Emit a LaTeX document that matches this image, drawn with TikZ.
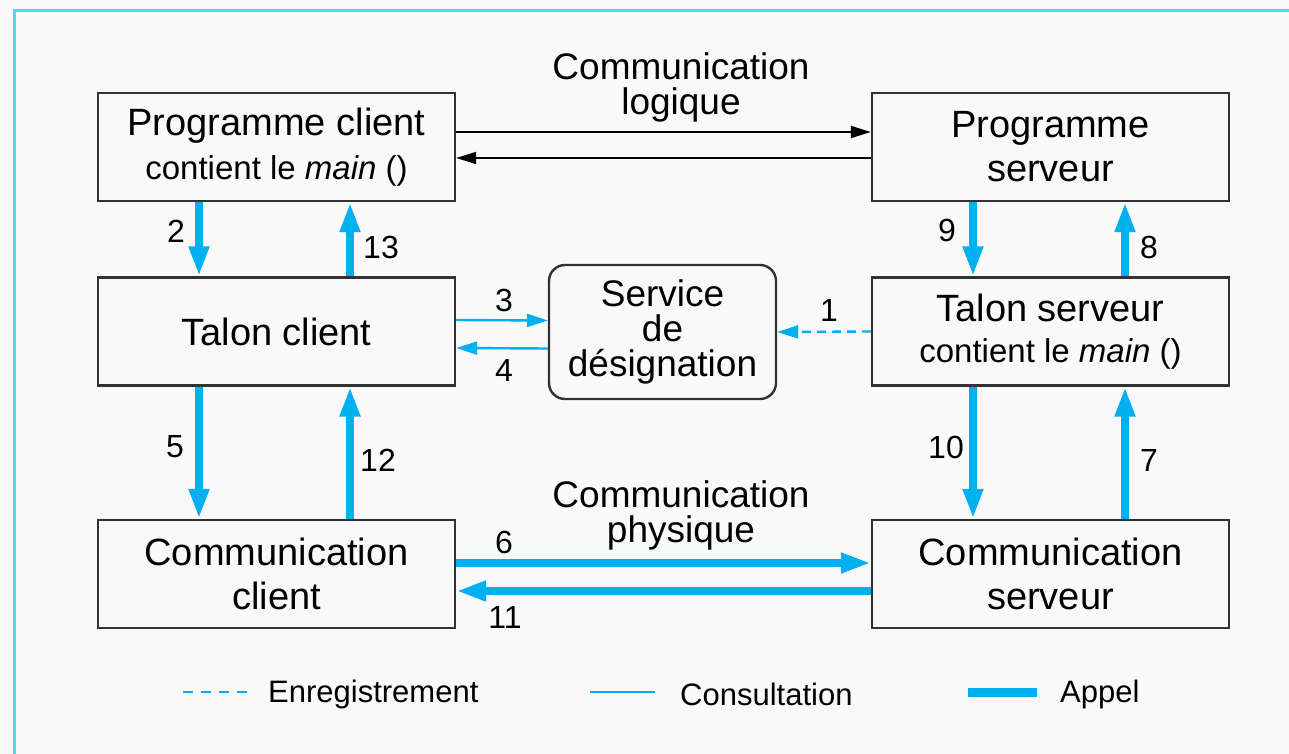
\documentclass[tikz,border=0pt]{standalone}
\usepackage{fontspec}
\setmainfont{Liberation Sans}
\usetikzlibrary{arrows.meta}
\definecolor{callblue}{RGB}{0,176,240}
\definecolor{framecyan}{RGB}{60,228,228}
\definecolor{boxgray}{RGB}{50,50,50}
\definecolor{paper}{RGB}{249,249,249}
\tikzset{
  box/.style={draw=boxgray, line width=2.4pt, minimum width=357pt, minimum height=108pt,
    inner sep=0pt, align=center, font=\fontsize{38}{44}\selectfont},
  num/.style={inner sep=0pt, font=\fontsize{32}{36}\selectfont},
  caption/.style={inner sep=0pt, align=center, font=\fontsize{37}{35}\selectfont},
  legendtext/.style={inner sep=0pt, anchor=west, font=\fontsize{31}{36}\selectfont},
  appel/.style={callblue, line width=8.5pt, -{Triangle[length=30pt,width=19pt]}},
  consult/.style={callblue, line width=2.4pt, -{Triangle[length=21pt,width=13pt]}},
  enreg/.style={callblue, line width=2.4pt, dash pattern=on 9pt off 6pt, -{Triangle[length=21pt,width=13pt]}},
  logic/.style={black, line width=2pt, -{Triangle[length=20pt,width=12pt]}},
}
\newcommand\mainline{{\fontsize{33}{40}\selectfont contient le \textit{main} ()}}
\begin{document}
\begin{tikzpicture}[x=1pt,y=-1pt]
  % page and frame
  \fill[paper] (0,0) rectangle (1289,754);
  \useasboundingbox (0,0) rectangle (1289,754);
  \draw[framecyan, line width=3pt] (14,760) -- (14,11) -- (1295,11);

  % boxes
  \node[box] (pc) at (276.5,147) {Programme client\\[0pt]\mainline};
  \node[box] (ps) at (1050.5,147) {Programme\\serveur};
  \node[box] (tc) at (276.5,331.5) {Talon client};
  \node[box] (ts) at (1050.5,331.5) {Talon serveur\\[-3pt]\mainline};
  \node[box] (cc) at (276.5,574) {Communication\\client};
  \node[box] (cs) at (1050.5,574) {Communication\\serveur};
  \node[box, minimum width=227pt, minimum height=134pt, rounded corners=16pt,
        font=\fontsize{37}{35}\selectfont] (sd) at (662.5,332) {Service\\de\\désignation};

  % logical communication
  \draw[logic] ([yshift=15pt]pc.east) -- ([yshift=15pt]ps.west);
  \draw[logic] ([yshift=-11pt]ps.west) -- ([yshift=-11pt]pc.east);
  \node[caption] (lcap) at (681,87) {Communication\\logique};

  % client side calls
  \draw[appel] ([xshift=-77.5pt]pc.south) -- ([xshift=-77.5pt]tc.north);
  \draw[appel] ([xshift=73.5pt]tc.north) -- ([xshift=73.5pt]pc.south);
  \draw[appel] ([xshift=-77.5pt]tc.south) -- ([xshift=-77.5pt]cc.north);
  \draw[appel] ([xshift=73.5pt]cc.north) -- ([xshift=73.5pt]tc.south);

  % server side calls
  \draw[appel] ([xshift=-77.5pt]ps.south) -- ([xshift=-77.5pt]ts.north);
  \draw[appel] ([xshift=74.5pt]ts.north) -- ([xshift=74.5pt]ps.south);
  \draw[appel] ([xshift=-77.5pt]ts.south) -- ([xshift=-77.5pt]cs.north);
  \draw[appel] ([xshift=74.5pt]cs.north) -- ([xshift=74.5pt]ts.south);

  % naming service
  \draw[consult] ([yshift=11.5pt]tc.east) -- ([yshift=11.5pt]sd.west);
  \draw[consult] ([yshift=-16.5pt]sd.west) -- ([yshift=-16.5pt]tc.east);
  \draw[enreg] (ts.west) -- (sd.east);

  % physical communication
  \draw[appel] ([yshift=11pt]cc.east) -- ([yshift=11pt]cs.west);
  \draw[appel] ([yshift=-17pt]cs.west) -- ([yshift=-17pt]cc.east);
  \node[caption] (pcap) at (681,515) {Communication\\physique};

  % step numbers
  \node[num] (n1) at (829,310) {1};
  \node[num] (n2) at (176,231) {2};
  \node[num] (n3) at (504,300) {3};
  \node[num] (n4) at (504,370) {4};
  \node[num] (n5) at (175,447) {5};
  \node[num] (n6) at (504,542) {6};
  \node[num] (n7) at (1149,460) {7};
  \node[num] (n8) at (1149,247) {8};
  \node[num] (n9) at (947,230) {9};
  \node[num] (n10) at (946,447) {10};
  \node[num] (n11) at (505,617) {11};
  \node[num] (n12) at (378,460) {12};
  \node[num] (n13) at (381,247) {13};

  % legend
  \coordinate (la1) at (183,692); \coordinate (la2) at (248,692);
  \draw[callblue, line width=2.4pt, dash pattern=on 10pt off 8pt] (la1) -- (la2);
  \node[legendtext] (lt1) at (268,694) {Enregistrement};
  \coordinate (lb1) at (590,692); \coordinate (lb2) at (655,692);
  \draw[callblue, line width=2.4pt] (lb1) -- (lb2);
  \node[legendtext] (lt2) at (680,694) {Consultation};
  \coordinate (lc1) at (968,692); \coordinate (lc2) at (1037,692);
  \draw[callblue, line width=9pt] (lc1) -- (lc2);
  \node[legendtext] (lt3) at (1060,694) {Appel};
\end{tikzpicture}
\end{document}
